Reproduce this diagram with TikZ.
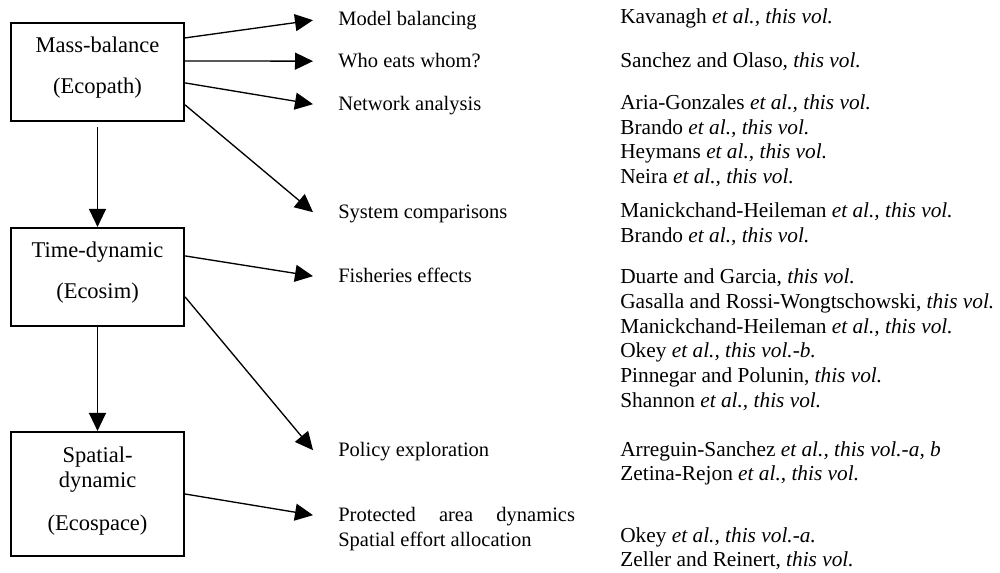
\documentclass[tikz,border=0pt]{standalone}
\usepackage{fontspec}
\setmainfont{Liberation Serif}
\usetikzlibrary{arrows.meta,calc}
\newcommand\etalvol{\textit{et al., this vol.}}
\newcommand\thvol{\textit{this vol.}}
\begin{document}
\begin{tikzpicture}[x=0.6pt,y=-0.6pt,
  box/.style={draw,line width=1.3pt,minimum width=103.8pt,inner sep=0pt},
  boxtxt/.style={anchor=base,inner sep=0pt,font=\fontsize{13.5}{16}\selectfont},
  arr/.style={line width=0.8pt,-{Triangle[length=10.8pt,width=10.2pt]}},
  lab/.style={anchor=base west,inner sep=0pt,text height=8pt,text depth=1pt,font=\fontsize{12.3}{14}\selectfont},
  rlab/.style={lab,font=\fontsize{12.8}{14}\selectfont},
  ]
\useasboundingbox (0,0) rectangle (1000,572);

% boxes
\node[box,minimum height=58.8pt] (b1) at (97.5,72) {};
\node[box,minimum height=58.8pt] (b2) at (97.5,277) {};
\node[box,minimum height=74.4pt] (b3) at (97.5,494) {};

\node[boxtxt] (b1a) at (97.5,53) {Mass-balance};
\node[boxtxt] (b1b) at (97.5,93) {(Ecopath)};
\node[boxtxt] (b2a) at (97.5,257) {Time-dynamic};
\node[boxtxt] (b2b) at (97.5,298) {(Ecosim)};
\node[boxtxt] (b3a) at (97.5,462) {Spatial-};
\node[boxtxt] (b3b) at (97.5,487) {dynamic};
\node[boxtxt] (b3c) at (97.5,530) {(Ecospace)};

% middle column
\node[lab] (m1) at (338,26) {Model balancing};
\node[lab] (m2) at (338,67) {Who eats whom?};
\node[lab] (m3) at (338,110) {Network analysis};
\node[lab] (m4) at (338,218) {System comparisons};
\node[lab] (m5) at (338,282) {Fisheries effects};
\node[lab] (m6) at (338,456) {Policy exploration};
\node[lab] (m7) at (338,521) {\makebox[142pt][s]{Protected area dynamics}};
\node[lab] (m8) at (338,546) {Spatial effort allocation};

% right column
\node[rlab] (r1) at (620,24) {Kavanagh \etalvol};
\node[rlab] (r2) at (620,67) {Sanchez and Olaso\textit{, this vol.}};
\node[rlab] (r3) at (620,109) {Aria-Gonzales \etalvol};
\node[rlab] (r4) at (620,134) {Brando \etalvol};
\node[rlab] (r5) at (620,158) {Heymans \etalvol};
\node[rlab] (r6) at (620,183) {Neira \etalvol};
\node[rlab] (r7) at (620,217) {Manickchand-Heileman \etalvol};
\node[rlab] (r8) at (620,242) {Brando \etalvol};
\node[rlab] (r9) at (620,283) {Duarte and Garcia, \thvol};
\node[rlab] (r10) at (620,308) {Gasalla and Rossi-Wongtschowski, \thvol};
\node[rlab] (r11) at (620,333) {Manickchand-Heileman \etalvol};
\node[rlab] (r12) at (620,357) {Okey \textit{et al., this vol.-b.}};
\node[rlab] (r13) at (620,382) {Pinnegar and Polunin, \thvol};
\node[rlab] (r14) at (620,407) {Shannon \etalvol};
\node[rlab] (r15) at (620,456) {Arreguin-Sanchez \textit{et al., this vol.-a, b}};
\node[rlab] (r16) at (620,480) {Zetina-Rejon \etalvol};
\node[rlab] (r17) at (620,542) {Okey \textit{et al., this vol.-a.}};
\node[rlab] (r18) at (620,566) {Zeller and Reinert, \thvol};

% vertical arrows
\draw[arr,shorten <=3pt] (b1.south) -- (b2.north);
\draw[arr] (b2.south) -- (b3.north);

% arrows to topics
\draw[arr] ($(b1.north east)+(0,16)$) -- ([xshift=-15pt]m1.west);
\draw[arr] ($(b1.north east)+(0,39)$) -- ([xshift=-15pt]m2.west);
\draw[arr] ($(b1.north east)+(0,61)$) -- ([xshift=-15pt]m3.west);
\draw[arr] ($(b1.north east)+(0,83)$) -- ([xshift=-15pt]m4.west);
\draw[arr] ($(b2.north east)+(0,29)$) -- ([xshift=-15pt]m5.west);
\draw[arr] ($(b2.north east)+(0,70)$) -- ([xshift=-15pt]m6.west);
\draw[arr] (b3.east) -- ([xshift=-15pt]m7.west);
\end{tikzpicture}
\end{document}
